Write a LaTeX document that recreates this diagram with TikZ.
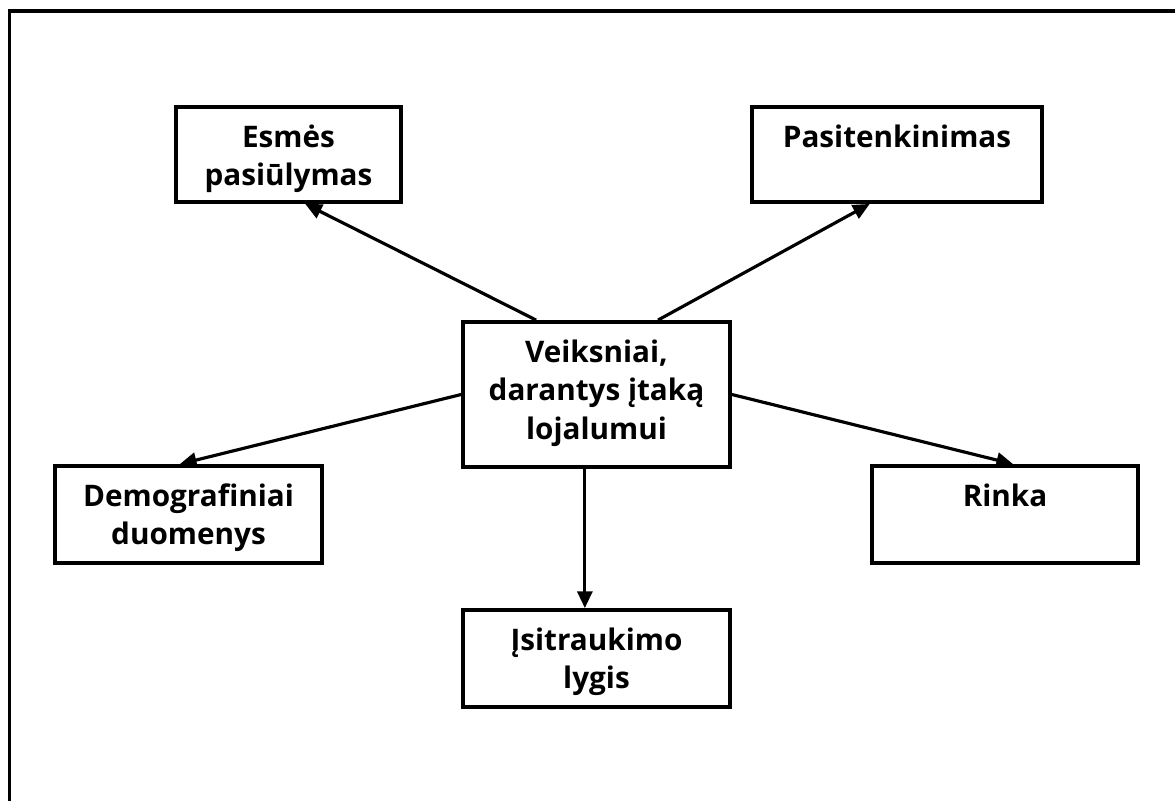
\documentclass[tikz,border=0pt]{standalone}
\usepackage{fontspec}
\setmainfont{Open Sans}
\usetikzlibrary{
    arrows.meta,
    positioning,
    calc
}

% text sits at the top of each box
\newcommand{\boxtext}[3]{\parbox[c][#2][t]{#1}{\centering\rule{0pt}{0.81cm}#3}}

\begin{document}
\begin{tikzpicture}[
        x=0.02cm, y=-0.02cm,
        box/.style={rectangle, draw, line width=2.2pt, inner sep=0pt, font=\fontsize{16.9}{21.8}\selectfont\bfseries},
        arrow/.style={-{Triangle[length=9.5pt, width=8.5pt]}, line width=1.8pt}
    ]
        \useasboundingbox (0,0) rectangle (1175,801);
        \draw[line width=2.2pt] (9.5,801) -- (9.5,11) -- (1175,11);

        \node[box] (core) at (596.5,394.5) {\boxtext{5.34cm}{2.9cm}{Veiksniai,\\darantys įtaką\\lojalumui}};
        \node[box] (essence) at (288.5,154.5) {\boxtext{4.5cm}{1.9cm}{Esmės\\pasiūlymas}};
        \node[box] (satisf) at (897,154.5) {\boxtext{5.8cm}{1.9cm}{Pasitenkinimas}};
        \node[box] (demo) at (188.5,514.5) {\boxtext{5.34cm}{1.94cm}{Demografiniai\\duomenys}};
        \node[box] (market) at (1005,514.5) {\boxtext{5.32cm}{1.94cm}{Rinka}};
        \node[box] (involve) at (596.5,658.5) {\boxtext{5.34cm}{1.94cm}{Įsitraukimo\\lygis}};

        \draw[arrow] ($(core.north west)!0.277!(core.north east)$) -- ($(essence.south west)!0.573!(essence.south east)$);
        \draw[arrow] ($(core.north west)!0.727!(core.north east)$) -- ($(satisf.south west)!0.407!(satisf.south east)$);
        \draw[arrow] (core.west) -- ($(demo.north west)!0.468!(demo.north east)$);
        \draw[arrow] (core.east) -- ($(market.north west)!0.53!(market.north east)$);
        \draw[arrow] ($(core.south west)!0.457!(core.south east)$) -- ($(involve.north west)!0.457!(involve.north east)$);
    \end{tikzpicture}
\end{document}
